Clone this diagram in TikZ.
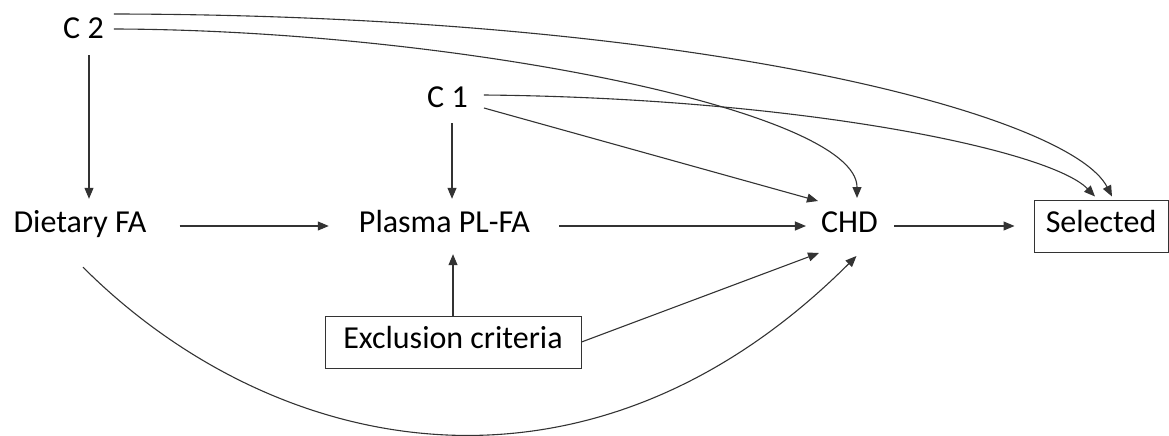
\documentclass[tikz,border=0pt]{standalone}
\usepackage{fontspec}
\setmainfont{Carlito}
\usetikzlibrary{arrows.meta}

\begin{document}
\begin{tikzpicture}[
    x=1pt, y=1pt,
    txtnode/.style={inner sep=0pt, text height=20pt, text depth=8pt, font=\fontsize{32}{38}\selectfont},
    boxnode/.style={txtnode, draw=black!80, line width=1pt},
    arr/.style={draw=black!80, line width=1.1pt, -{Triangle[length=11pt,width=9pt]}}
    ]
    \useasboundingbox (0,0) rectangle (1169,-436);

     \node [txtnode] (c2) at (83.5,-32) {C 2};
     \node [txtnode] (c1) at (447.5,-101) {C 1};

     \node [txtnode] (diet) at (80,-226) {Dietary FA};
     \node [txtnode] (plasma) at (444.5,-226) {Plasma PL-FA};
     \node [txtnode] (chd) at (849.5,-226) {CHD};
     \node [boxnode,minimum width=134pt,minimum height=52pt] (sel) at (1101,-226) {Selected};

     \node [boxnode,minimum width=256pt,minimum height=52pt] (excl) at (453,-342) {Exclusion criteria};

    \draw [arr,shorten <=9pt,shorten >=13pt] ([xshift=5.5pt]c2.south) -- ([xshift=5.5pt]c2.south |- diet.north);
    \draw [arr,shorten <=8pt,shorten >=13pt] ([xshift=4.5pt]c1.south) -- ([xshift=4.5pt]c1.south |- plasma.north);
    \draw [arr,shorten >=14pt] (excl.north) -- (excl.north |- plasma.south);

    \draw [arr,shorten <=33pt,shorten >=30pt] (diet.east) -- (plasma.west);
    \draw [arr,shorten <=29pt,shorten >=15pt] (plasma.east) -- (chd.west);
    \draw [arr,shorten <=16pt,shorten >=19pt] (chd.east) -- (sel.west);

    \draw [arr] ([shift={(16,-7)}]c1.east) -- ([shift={(-31.5,25)}]chd.center);
    \draw [arr] (excl.east) -- ([shift={(-30.5,-27)}]chd.center);

    \draw [arr] ([shift={(10,3)}]c2.east) .. controls (450,-30) and (857,-110) .. ([shift={(7.5,28)}]chd.center);
    \draw [arr] ([shift={(10,18)}]c2.east) .. controls (700,-15) and (1070,-115) .. ([xshift=11pt,yshift=3pt]sel.north);
    \draw [arr] ([shift={(16,6)}]c1.east) .. controls (800,-98) and (1050,-150) .. ([xshift=-6pt,yshift=3pt]sel.north);

    \draw [arr] ([shift={(3,-27)}]diet.south) .. controls (273,-457) and (587,-525) .. ([shift={(7,-30)}]chd.center);

  \end{tikzpicture}
\end{document}
